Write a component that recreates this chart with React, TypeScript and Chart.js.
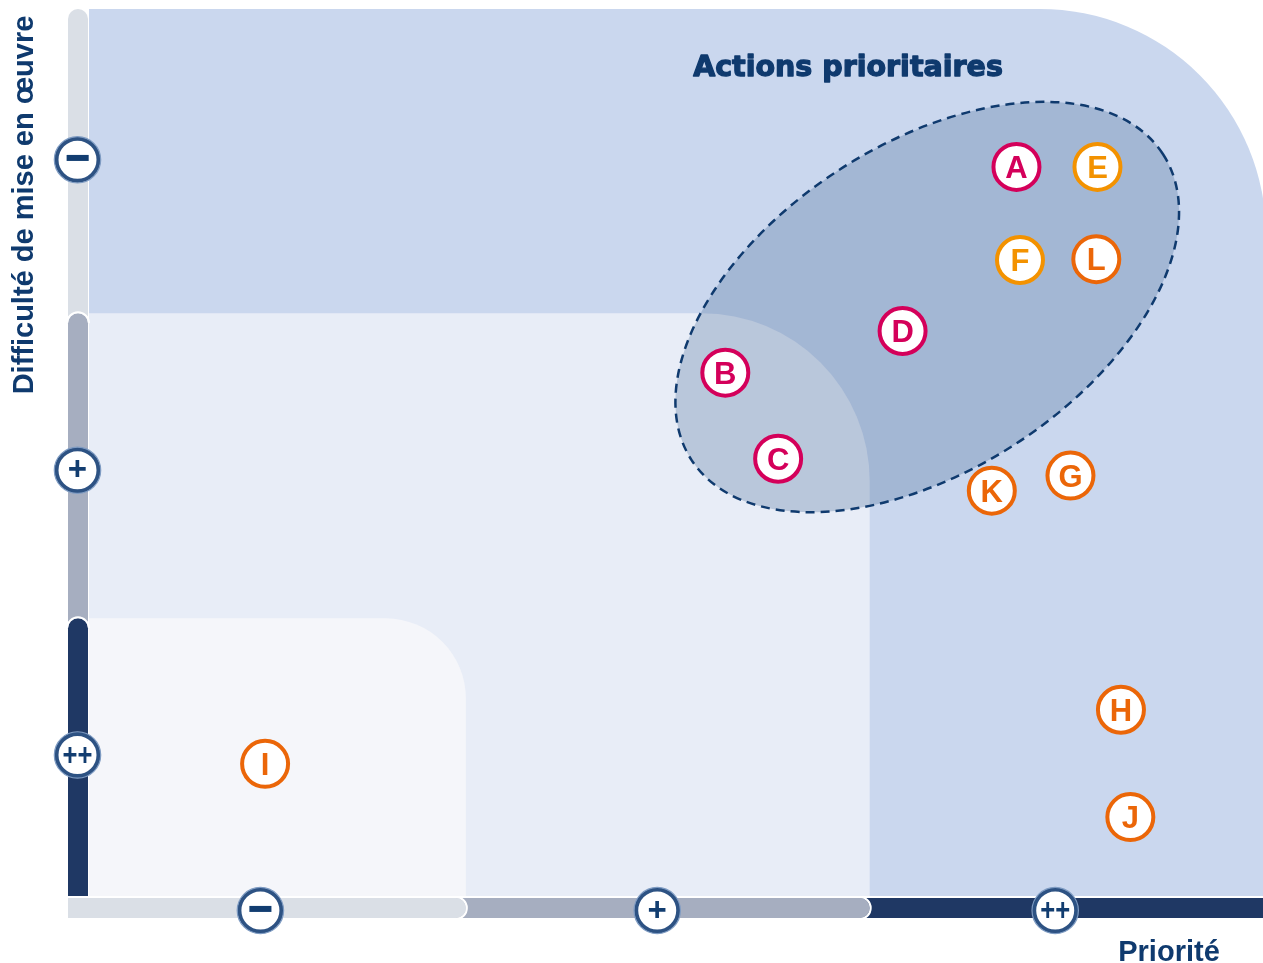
import React, { useEffect, useRef } from "react";
import { Chart, registerables } from "chart.js";

Chart.register(...registerables);

// ---- Data ----
const POINT_LABELS = ["A", "B", "C", "D", "E", "F", "G", "H", "I", "J", "K", "L"];
const PRIORITE = [7.9, 5.42, 5.87, 6.93, 8.59, 7.93, 8.36, 8.79, 1.5, 8.87, 7.69, 8.58];
const DIFFICULTE = [8.22, 5.9, 4.93, 6.37, 8.22, 7.17, 4.74, 2.1, 1.49, 0.89, 4.57, 7.18];
const GROUPES = ["rouge", "rouge", "rouge", "rouge", "jaune", "jaune", "orange", "orange", "orange", "orange", "orange", "orange"];

const NIVEAUX = ["−", "+", "++"];
const NIVEAUX_X = [1.46, 4.84, 8.23];
const NIVEAUX_Y = [8.3, 4.8, 1.59];

const ZONES_X = [3.21, 6.65];
const ZONES_Y = [3.13, 6.57];

const ELLIPSE_CENTRE = [7.14, 6.64];

const TITRE_ZONE = "Actions prioritaires";
const TITRE_X = "Priorité";
const TITRE_Y = "Difficulté de mise en œuvre";

// ---- Styles ----
const COULEURS: Record<string, string> = {
  rouge: "#D4005A",
  jaune: "#F39200",
  orange: "#EB6608",
};
const NAVY = "#0F3A6E";
const BAR_LIGHT = "#DADFE6";
const BAR_MED = "#A6AEC0";
const BAR_DARK = "#1F3864";

function roundedTopRightRect(ctx: CanvasRenderingContext2D, x0: number, y0: number, x1: number, y1: number, r: number) {
  ctx.beginPath();
  ctx.moveTo(x0, y1);
  ctx.lineTo(x0, y0);
  ctx.lineTo(x1 - r, y0);
  ctx.arcTo(x1, y0, x1, y0 + r, r);
  ctx.lineTo(x1, y1);
  ctx.closePath();
}

const decorPlugin = {
  id: "decor",
  beforeDatasetsDraw(chart: any) {
    const ctx: CanvasRenderingContext2D = chart.ctx;
    const { left, right, top, bottom } = chart.chartArea;
    const xs = chart.scales.x;
    const ys = chart.scales.y;
    ctx.save();
    ctx.fillStyle = "#ffffff";
    ctx.fillRect(0, 0, chart.width, chart.height);

    // zones
    ctx.fillStyle = "#CAD7EE";
    roundedTopRightRect(ctx, left, top, right + 3, bottom, 226);
    ctx.fill();
    const mx = xs.getPixelForValue(ZONES_X[1]);
    const my = ys.getPixelForValue(ZONES_Y[1]);
    ctx.fillStyle = "#E8EDF7";
    roundedTopRightRect(ctx, left, my, mx, bottom, 168);
    ctx.fill();
    const ix = xs.getPixelForValue(ZONES_X[0]);
    const iy = ys.getPixelForValue(ZONES_Y[0]);
    ctx.fillStyle = "#F5F6FA";
    roundedTopRightRect(ctx, left, iy, ix, bottom, 80);
    ctx.fill();

    // ellipse
    const ecx = xs.getPixelForValue(ELLIPSE_CENTRE[0]);
    const ecy = ys.getPixelForValue(ELLIPSE_CENTRE[1]);
    ctx.beginPath();
    ctx.ellipse(ecx, ecy, 281, 163, (-33 * Math.PI) / 180, 0, Math.PI * 2);
    ctx.fillStyle = "rgba(58,96,145,0.27)";
    ctx.fill();
    ctx.setLineDash([9, 6]);
    ctx.lineWidth = 2.5;
    ctx.strokeStyle = NAVY;
    ctx.stroke();
    ctx.setLineDash([]);

    // zone title
    ctx.fillStyle = NAVY;
    ctx.strokeStyle = NAVY;
    ctx.lineWidth = 1.3;
    ctx.lineJoin = "round";
    ctx.font = "bold 28.5px 'DejaVu Sans'";
    ctx.textAlign = "center";
    ctx.textBaseline = "alphabetic";
    ctx.fillText(TITRE_ZONE, 848, 76);
    ctx.strokeText(TITRE_ZONE, 848, 76);

    // vertical axis bar
    const vx0 = left - 21;
    const vx1 = left - 1;
    const vr = 10;
    const segV = [
      { y0: top, y1: my + vr, c: BAR_LIGHT },
      { y0: my, y1: iy + vr, c: BAR_MED },
      { y0: iy, y1: bottom, c: BAR_DARK },
    ];
    segV.forEach((s, i) => {
      ctx.beginPath();
      ctx.moveTo(vx0, s.y1);
      ctx.lineTo(vx0, s.y0 + vr);
      ctx.arc(vx0 + vr, s.y0 + vr, vr, Math.PI, 0);
      ctx.lineTo(vx1, s.y1);
      ctx.closePath();
      ctx.fillStyle = s.c;
      ctx.fill();
      if (i > 0) {
        ctx.beginPath();
        ctx.arc(vx0 + vr, s.y0 + vr, vr + 1, Math.PI, 0);
        ctx.strokeStyle = "#ffffff";
        ctx.lineWidth = 2;
        ctx.stroke();
      }
    });

    // horizontal axis bar
    const hy0 = bottom + 2;
    const hy1 = bottom + 22;
    const hr = 10;
    ctx.fillStyle = BAR_DARK;
    ctx.fillRect(mx - 10, hy0, right - (mx - 10), hy1 - hy0);
    const segH = [
      { x0: ix - 10, x1: mx, c: BAR_MED },
      { x0: vx0, x1: ix, c: BAR_LIGHT },
    ];
    segH.forEach((s) => {
      ctx.beginPath();
      ctx.moveTo(s.x0, hy0);
      ctx.lineTo(s.x1 - hr, hy0);
      ctx.arc(s.x1 - hr, hy0 + hr, hr, -Math.PI / 2, Math.PI / 2);
      ctx.lineTo(s.x0, hy1);
      ctx.closePath();
      ctx.fillStyle = s.c;
      ctx.fill();
      ctx.beginPath();
      ctx.arc(s.x1 - hr, hy0 + hr, hr + 1, -Math.PI / 2, Math.PI / 2);
      ctx.strokeStyle = "#ffffff";
      ctx.lineWidth = 2;
      ctx.stroke();
    });

    // badges
    const badge = (cx: number, cy: number, txt: string) => {
      ctx.beginPath();
      ctx.arc(cx, cy, 21, 0, Math.PI * 2);
      ctx.fillStyle = "#ffffff";
      ctx.fill();
      ctx.lineWidth = 4;
      ctx.strokeStyle = "#2D5283";
      ctx.stroke();
      ctx.beginPath();
      ctx.arc(cx, cy, 23.2, 0, Math.PI * 2);
      ctx.lineWidth = 1.2;
      ctx.strokeStyle = "#7E9BC2";
      ctx.stroke();
      ctx.fillStyle = "#123D70";
      ctx.textAlign = "center";
      ctx.textBaseline = "middle";
      if (txt === "−") {
        ctx.font = "bold 44px 'Liberation Sans'";
        ctx.save();
        ctx.translate(cx, cy + 1);
        ctx.scale(1, 1.25);
        ctx.fillText(txt, 0, 0);
        ctx.restore();
      } else if (txt === "+") {
        ctx.font = "bold 33px 'Liberation Sans'";
        ctx.fillText(txt, cx, cy + 1);
      } else {
        ctx.font = "bold 32px 'Liberation Sans'";
        ctx.save();
        ctx.translate(cx, cy + 1);
        ctx.scale(0.8, 1);
        ctx.fillText(txt, 0, 0);
        ctx.restore();
      }
    };
    NIVEAUX.forEach((n, i) => {
      badge(vx0 + 9.5, ys.getPixelForValue(NIVEAUX_Y[i]), n);
      badge(xs.getPixelForValue(NIVEAUX_X[i]), hy0 + 12.5, n);
    });

    // axis titles
    ctx.fillStyle = NAVY;
    ctx.font = "bold 29px 'Liberation Sans'";
    ctx.textBaseline = "alphabetic";
    ctx.textAlign = "center";
    ctx.fillText(TITRE_X, 1169, 961);
    ctx.save();
    ctx.translate(33, 205);
    ctx.rotate(-Math.PI / 2);
    ctx.fillText(TITRE_Y, 0, 0);
    ctx.restore();

    ctx.restore();
  },
  afterDatasetsDraw(chart: any) {
    const ctx: CanvasRenderingContext2D = chart.ctx;
    const meta = chart.getDatasetMeta(0);
    ctx.save();
    ctx.font = "bold 31px 'Liberation Sans'";
    ctx.textAlign = "center";
    ctx.textBaseline = "alphabetic";
    meta.data.forEach((pt: any, i: number) => {
      ctx.fillStyle = COULEURS[GROUPES[i]];
      ctx.fillText(POINT_LABELS[i], pt.x, pt.y + 11);
    });
    ctx.restore();
  },
};

export default function App() {
  const ref = useRef<HTMLCanvasElement | null>(null);
  useEffect(() => {
    if (!ref.current) return;
    const chart = new Chart(ref.current, {
      type: "scatter",
      data: {
        datasets: [
          {
            label: "Actions",
            data: PRIORITE.map((x, i) => ({ x, y: DIFFICULTE[i] })),
            pointRadius: 23,
            pointHoverRadius: 23,
            pointBorderWidth: 4,
            pointBackgroundColor: "#ffffff",
            pointBorderColor: GROUPES.map((g) => COULEURS[g]),
            showLine: false,
            clip: false,
          } as any,
        ],
      },
      options: {
        responsive: false,
        animation: false,
        devicePixelRatio: 1,
        layout: { autoPadding: false, padding: { left: 89, top: 9, right: 0, bottom: 67 } },
        scales: {
          x: { type: "linear", min: 0, max: 10, display: false },
          y: { type: "linear", min: 0, max: 10, display: false },
        },
        plugins: {
          legend: { display: false },
          tooltip: { enabled: false },
          title: { display: false },
        },
        events: [],
      },
      plugins: [decorPlugin],
    });
    return () => chart.destroy();
  }, []);
  return (
    <div style={{ position: "absolute", left: 0, top: 0, width: 1263, height: 963 }}>
      <canvas ref={ref} width={1263} height={963} style={{ display: "block" }} />
    </div>
  );
}
